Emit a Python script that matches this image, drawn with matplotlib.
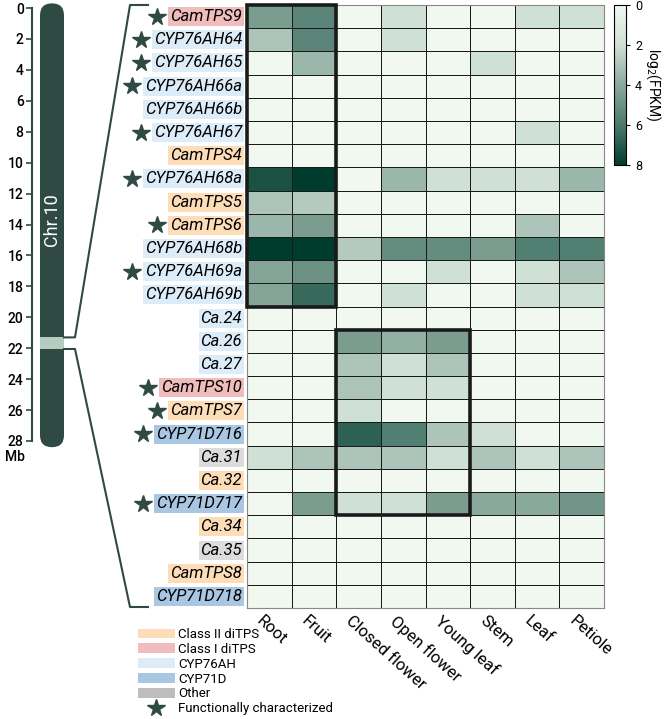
import matplotlib
matplotlib.use("Agg")
import matplotlib.pyplot as plt
import numpy as np
from matplotlib.colors import LinearSegmentedColormap
from matplotlib.patches import Rectangle, FancyBboxPatch, Patch
from matplotlib.lines import Line2D

plt.rcParams['font.family'] = ['Roboto', 'DejaVu Sans']

W, H = 666, 719

genes = ["CamTPS9", "CYP76AH64", "CYP76AH65", "CYP76AH66a", "CYP76AH66b",
         "CYP76AH67", "CamTPS4", "CYP76AH68a", "CamTPS5", "CamTPS6",
         "CYP76AH68b", "CYP76AH69a", "CYP76AH69b", "Ca.24", "Ca.26", "Ca.27",
         "CamTPS10", "CamTPS7", "CYP71D716", "Ca.31", "Ca.32", "CYP71D717",
         "Ca.34", "Ca.35", "CamTPS8", "CYP71D718"]
gene_class = ["c1", "ah", "ah", "ah", "ah", "ah", "c2", "ah", "c2", "c2",
              "ah", "ah", "ah", "ah", "ah", "ah", "c1", "c2", "d", "oth",
              "c2", "d", "c2", "oth", "c2", "d"]
starred = [1, 1, 1, 1, 0, 1, 0, 1, 0, 1, 0, 1, 0, 0, 0, 0, 1, 1, 1, 0, 0, 1,
           0, 0, 0, 0]
tissues = ["Root", "Fruit", "Closed flower", "Open flower", "Young leaf",
           "Stem", "Leaf", "Petiole"]

# log2(FPKM)
fpkm = np.array([
    [4.5, 5.5, 0, 2, 0, 0, 2, 2],
    [3, 5.5, 0, 2, 0, 0, 0, 0],
    [0, 3.5, 0, 0, 0, 2, 0, 0],
    [0, 0, 0, 0, 0, 0, 0, 0],
    [0, 0, 0, 0, 0, 0, 0, 0],
    [0, 0, 0, 0, 0, 0, 2, 0],
    [0, 0, 0, 0, 0, 0, 0, 0],
    [7.3, 8, 0, 3.5, 2, 2, 2, 3.5],
    [3, 2.8, 0, 0, 0, 0, 0, 0],
    [3.5, 4.5, 0, 0, 0, 0, 3, 0],
    [8, 8, 2.8, 5.2, 5.2, 4.5, 5.8, 5.8],
    [4.2, 5, 0, 0, 2, 0, 2, 3],
    [4.2, 6.5, 0, 2, 0, 0, 2, 2],
    [0, 0, 0, 0, 0, 0, 0, 0],
    [0, 0, 4.5, 3.8, 4.5, 0, 0, 0],
    [0, 0, 3, 2, 3, 0, 0, 0],
    [0, 0, 3, 2, 2, 0, 0, 0],
    [0, 0, 2, 0, 0, 0, 0, 0],
    [0, 0, 6.8, 5.8, 3, 2, 0, 0],
    [2, 3, 3, 3, 2, 3, 2, 3],
    [0, 0, 0, 0, 0, 0, 0, 0],
    [0, 4.5, 2, 2, 4.5, 4, 4, 4.8],
    [0, 0, 0, 0, 0, 0, 0, 0],
    [0, 0, 0, 0, 0, 0, 0, 0],
    [0, 0, 0, 0, 0, 0, 0, 0],
    [0, 0, 0, 0, 0, 0, 0, 0],
])

class_colors = {"c2": "#fddcb8", "c1": "#f0bcbc", "ah": "#dcecf8",
                "d": "#a9c7e2", "oth": "#dcdcdc"}
legend_names = [("c2", "Class II diTPS"), ("c1", "Class I diTPS"),
                ("ah", "CYP76AH"), ("d", "CYP71D"), ("oth", "Other")]

chr_ticks = np.arange(0, 29, 2)
band = (21.3, 22.05)

dark = "#2e4a43"
cmap = LinearSegmentedColormap.from_list(
    "fpkm", [(0, "#f0f8f0"), (0.25, "#cfe0d6"), (0.5, "#8aa99d"),
             (0.75, "#4b7a6c"), (1, "#003c2d")])


def px_axes(x0, y0, x1, y1):
    return fig.add_axes([x0 / W, 1 - y1 / H, (x1 - x0) / W, (y1 - y0) / H])


fig = plt.figure(figsize=(W / 100, H / 100), dpi=100)

# heatmap
ax = px_axes(247, 5, 604, 608)
mesh = ax.pcolormesh(fpkm, cmap=cmap, vmin=0, vmax=8, edgecolors="#1a1a1a",
                     linewidth=0.7)
ax.set_xlim(0, 8)
ax.set_ylim(26, 0)
ax.set_xticks([])
ax.set_yticks([])
for s in ax.spines.values():
    s.set_color("#888888")
ax.add_patch(Rectangle((0, 0), 2, 13, fill=False, lw=2.6, ec="#1a1a1a",
                       clip_on=False, zorder=5))
ax.add_patch(Rectangle((2, 14), 3, 8, fill=False, lw=2.6, ec="#1a1a1a",
                       clip_on=False, zorder=5))

labels = []
for i, g in enumerate(genes):
    t = ax.text(-0.11, i + 0.5, g, ha="right", va="center", fontsize=12,
                style="italic",
                bbox=dict(facecolor=class_colors[gene_class[i]],
                          edgecolor="none", pad=1.4))
    labels.append(t)

for j, name in enumerate(tissues):
    ax.text(j + 0.38, 26.2, name, rotation=-42, ha="left", va="top",
            rotation_mode="anchor", fontsize=12)

# colorbar
cax = px_axes(614, 5, 626, 165)
cb = fig.colorbar(mesh, cax=cax)
cax.set_ylim(8, 0)
cb.set_ticks([0, 2, 4, 6, 8])
cax.tick_params(labelsize=9, length=3)
cb.outline.set_linewidth(0.8)
cb.set_label("log$_2$(FPKM)", rotation=270, labelpad=15, fontsize=10)

# chromosome
cx = px_axes(32, 8, 140, 441)
cx.set_xlim(0, 108)
cx.set_ylim(28, 0)
cx.patch.set_visible(False)
for side in ["top", "right", "bottom"]:
    cx.spines[side].set_visible(False)
cx.spines["left"].set_color(dark)
cx.spines["left"].set_linewidth(1.5)
cx.set_xticks([])
cx.set_yticks(chr_ticks)
cx.tick_params(axis="y", length=4, width=1.2, color=dark, labelsize=10,
               pad=2)
for lab in cx.get_yticklabels():
    lab.set_fontweight(500)
cx.text(-17, 29.05, "Mb", fontsize=10, ha="center", va="center",
        fontweight=500)

asp = 433 / 28
chrom = FancyBboxPatch((8, -0.3), 24, 28.7,
                       boxstyle="round,pad=0,rounding_size=12",
                       mutation_aspect=1 / asp, fc=dark, ec="none",
                       clip_on=False)
cx.add_patch(chrom)
cx.add_patch(Rectangle((8, band[0]), 24, band[1] - band[0], fc="#b5ccc1",
                       ec="none", clip_on=False))
cx.text(20, 13.7, "Chr.10", rotation=90, color="white", fontsize=13,
        ha="center", va="center")

top_y = (5 - 8) / asp
bot_y = (607 - 8) / asp
cx.plot([32, 43, 98, 116], [band[0], band[0], top_y, top_y], color=dark,
        lw=1.5, clip_on=False)
cx.plot([32, 43, 98, 116], [band[1], band[1], bot_y, bot_y], color=dark,
        lw=1.5, clip_on=False)

# stars next to the labels
fig.canvas.draw()
rend = fig.canvas.get_renderer()
inv = ax.transData.inverted()
for i, t in enumerate(labels):
    if starred[i]:
        bb = t.get_bbox_patch().get_window_extent(rend)
        x, y = inv.transform((bb.x0 - 11, (bb.y0 + bb.y1) / 2))
        ax.plot(x, y, marker="*", ms=13, color=dark, clip_on=False,
                ls="none")

# legend
handles = [Patch(facecolor=class_colors[k], edgecolor="none")
           for k, _ in legend_names]
handles[-1] = Patch(facecolor="#bdbdbd", edgecolor="none")
handles.append(Line2D([], [], marker="*", ms=13, color=dark, ls="none"))
names = [n for _, n in legend_names] + ["Functionally characterized"]
fig.legend(handles, names, loc="upper left",
           bbox_to_anchor=(138 / W, 1 - 628 / H), frameon=False,
           fontsize=9.5, handlelength=2.8, handleheight=0.75,
           labelspacing=0.14, handletextpad=0.25, borderpad=0,
           borderaxespad=0)

fig.savefig("out.png", dpi=100)
